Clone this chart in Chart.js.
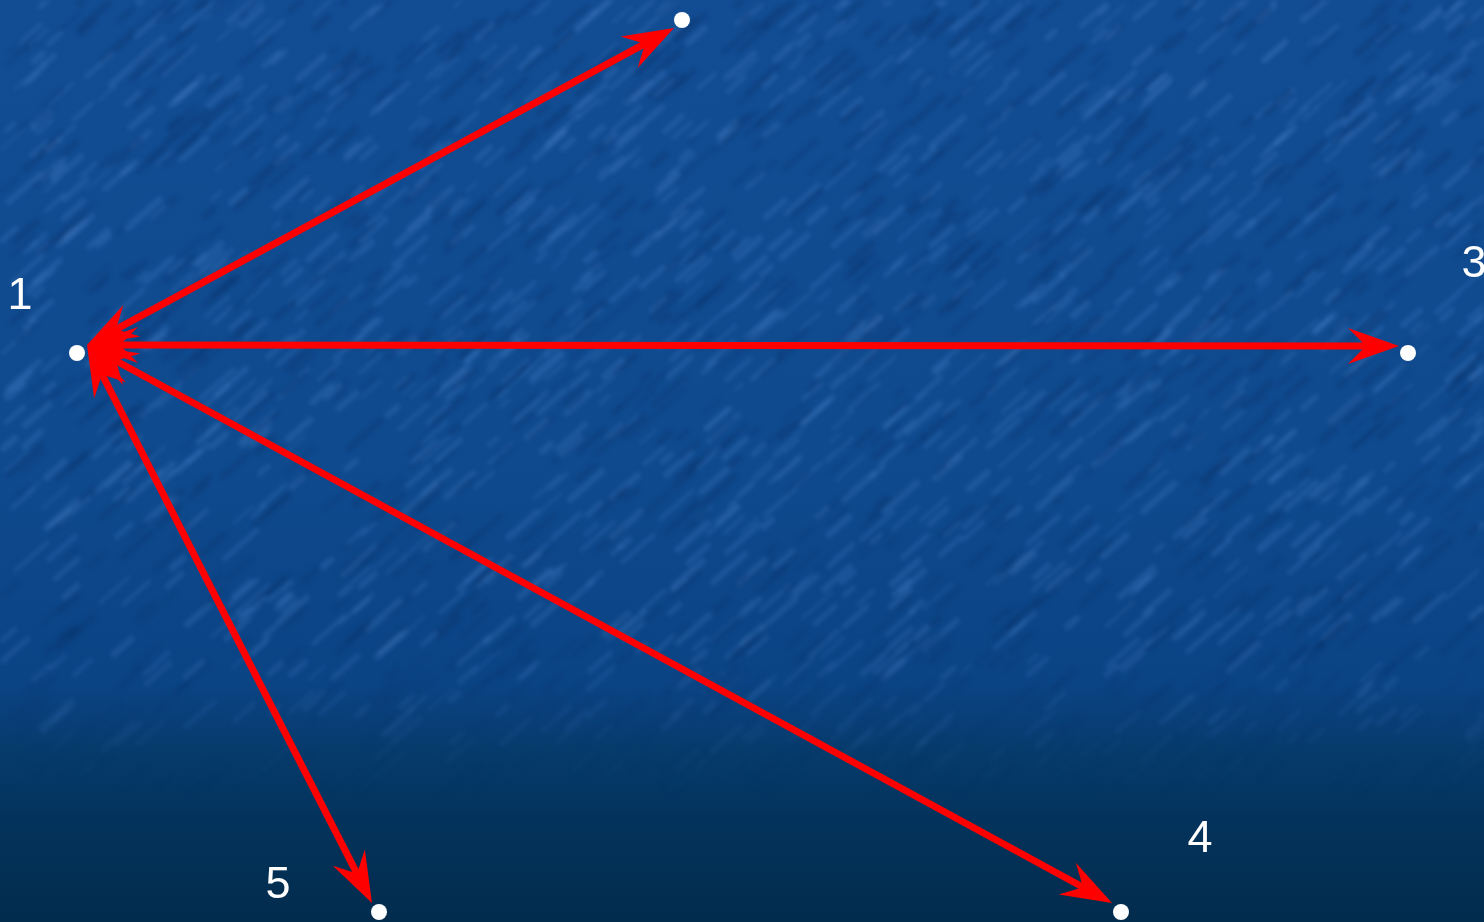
<!DOCTYPE html>
<html>
<head>
<meta charset="utf-8">
<script src="https://cdn.jsdelivr.net/npm/chart.js@4/dist/chart.umd.min.js"></script>
<style>
  html, body { margin: 0; padding: 0; background: #0b4283; overflow: hidden; }
  #wrap { position: relative; width: 1484px; height: 922px; }
</style>
</head>
<body>
<div id="wrap"><canvas id="graph"></canvas></div>
<script>
// nodes of the diagram (x grows right, y grows down)
const nodeIds = ['1', '2', '3', '4', '5'];
const nodeX = [77, 682, 1408, 1121, 379];
const nodeY = [353, 20, 353, 912, 912];

// arrows: all leave the hub beside node 1, heads on both ends
const hubX = 87;
const hubY = 345;
const arrowTo = ['2', '3', '4', '5'];
const arrowEndX = [674, 1399, 1112, 372];
const arrowEndY = [28, 346, 903, 903];

// node captions as they sit on the picture
const labelText = ['1', '3', '4', '5'];
const labelX = [20, 1474, 1200, 278];
const labelY = [297, 265, 840, 886];

const arrowRed = '#ff0000';

// pseudo noise used only for the paper texture behind the chart
function hash(n) {
  const s = Math.sin(n * 12.9898) * 43758.5453;
  return s - Math.floor(s);
}

let texture = null;
function buildTexture(width, height) {
  const c = document.createElement('canvas');
  c.width = width;
  c.height = height;
  const t = c.getContext('2d');
  const g = t.createLinearGradient(0, 0, 0, height);
  g.addColorStop(0, '#124c92');
  g.addColorStop(0.5, '#0f4a8e');
  g.addColorStop(0.74, '#0b4485');
  g.addColorStop(0.82, '#063a6a');
  g.addColorStop(0.9, '#03325a');
  g.addColorStop(1, '#022c4d');
  t.fillStyle = g;
  t.fillRect(0, 0, width, height);

  // streaks go on their own layer, blurred once when laid down
  const layer = document.createElement('canvas');
  layer.width = width;
  layer.height = height;
  const s = layer.getContext('2d');
  s.lineCap = 'round';
  for (let i = 0; i < 2400; i++) {
    const x = hash(i + 1) * width;
    const y = hash(i + 7001) * height * 0.88;
    const len = 10 + hash(i + 3001) * 34;
    const light = hash(i + 9001) > 0.45;
    const fade = y > 640 ? Math.max(0, 1 - (y - 640) / 160) : 1;
    s.strokeStyle = light
      ? `rgba(80,135,205,${0.24 * fade})`
      : `rgba(6,45,100,${0.26 * fade})`;
    s.lineWidth = 2 + hash(i + 5001) * 5;
    s.beginPath();
    s.moveTo(x, y);
    s.lineTo(x + len * 0.75, y - len * 0.66);
    s.stroke();
  }
  t.filter = 'blur(2.2px)';
  t.drawImage(layer, 0, 0);
  t.filter = 'none';
  return c;
}

const backdrop = {
  id: 'backdrop',
  beforeDraw(chart) {
    const { ctx, width, height } = chart;
    if (!texture || texture.width !== width) texture = buildTexture(width, height);
    ctx.drawImage(texture, 0, 0, width, height);
  }
};

const HEAD_LEN = 51, HEAD_HALF = 18, HEAD_NOTCH = 33;

function arrowHead(ctx, tx, ty, ux, uy) {
  const nx = -uy, ny = ux;
  ctx.beginPath();
  ctx.moveTo(tx, ty);
  ctx.lineTo(tx - HEAD_LEN * ux + HEAD_HALF * nx, ty - HEAD_LEN * uy + HEAD_HALF * ny);
  ctx.lineTo(tx - HEAD_NOTCH * ux, ty - HEAD_NOTCH * uy);
  ctx.lineTo(tx - HEAD_LEN * ux - HEAD_HALF * nx, ty - HEAD_LEN * uy - HEAD_HALF * ny);
  ctx.closePath();
  ctx.fill();
}

const arrows = {
  id: 'arrows',
  afterDatasetsDraw(chart) {
    const { ctx, scales } = chart;
    ctx.save();
    ctx.fillStyle = arrowRed;
    const ax = scales.x.getPixelForValue(hubX);
    const ay = scales.y.getPixelForValue(hubY);
    arrowEndX.forEach((ex, i) => {
      const bx = scales.x.getPixelForValue(ex);
      const by = scales.y.getPixelForValue(arrowEndY[i]);
      const d = Math.hypot(bx - ax, by - ay);
      const ux = (bx - ax) / d, uy = (by - ay) / d;
      arrowHead(ctx, bx, by, ux, uy);
      arrowHead(ctx, ax, ay, -ux, -uy);
    });
    // dots on top
    ctx.fillStyle = '#ffffff';
    nodeX.forEach((v, i) => {
      ctx.beginPath();
      ctx.arc(scales.x.getPixelForValue(v), scales.y.getPixelForValue(nodeY[i]), 8, 0, Math.PI * 2);
      ctx.fill();
    });
    // captions
    ctx.font = '45px "Liberation Sans", Arial, sans-serif';
    ctx.textAlign = 'center';
    ctx.textBaseline = 'middle';
    labelText.forEach((t, i) => {
      ctx.fillText(t, scales.x.getPixelForValue(labelX[i]), scales.y.getPixelForValue(labelY[i]));
    });
    ctx.restore();
  }
};

// shaft stops inside the head so its square ends stay hidden
function pullBack(x0, y0, x1, y1, by) {
  const d = Math.hypot(x1 - x0, y1 - y0);
  return { x: x1 - (x1 - x0) / d * by, y: y1 - (y1 - y0) / d * by };
}

const edgeSets = arrowEndX.map((ex, i) => ({
  label: '1-' + arrowTo[i],
  data: [
    pullBack(ex, arrowEndY[i], hubX, hubY, 24),
    pullBack(hubX, hubY, ex, arrowEndY[i], 24)
  ],
  showLine: true,
  borderColor: arrowRed,
  borderWidth: 7,
  borderCapStyle: 'butt',
  pointRadius: 0,
  clip: false
}));

new Chart(document.getElementById('graph'), {
  type: 'scatter',
  data: { datasets: edgeSets },
  options: {
    responsive: true,
    maintainAspectRatio: false,
    animation: false,
    events: [],
    layout: { padding: 0 },
    plugins: {
      legend: { display: false },
      tooltip: { enabled: false }
    },
    scales: {
      x: { type: 'linear', min: 0, max: 1484, display: false },
      y: { type: 'linear', min: 0, max: 922, reverse: true, display: false }
    }
  },
  plugins: [backdrop, arrows]
});
</script>
</body>
</html>
